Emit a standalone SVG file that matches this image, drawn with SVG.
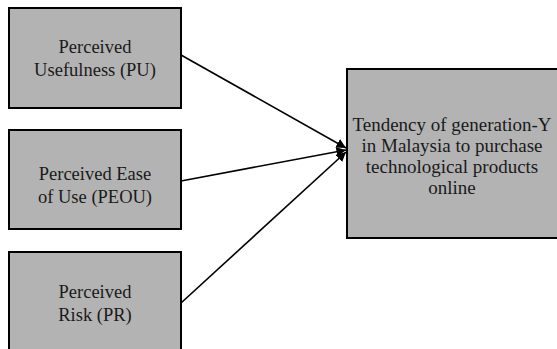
<svg xmlns="http://www.w3.org/2000/svg" width="557" height="349" viewBox="0 0 557 349">
<style>
.box{fill:#b3b3b3;stroke:#000;stroke-width:2}
.t{font-family:"Liberation Serif","Times New Roman",serif;font-size:18.5px;fill:#1a1a1a;text-anchor:middle}
.tl{font-size:19px}
.c{stroke:#000;stroke-width:1.6;fill:none;marker-end:url(#ah)}
</style>
<defs>
<marker id="ah" viewBox="0 0 10 10" refX="10" refY="5" markerWidth="6" markerHeight="6" orient="auto" markerUnits="strokeWidth">
<path d="M0,0 L10,5 L0,10 z" fill="#000"/>
</marker>
</defs>
<rect width="557" height="349" fill="#fff"/>
<g id="connectors">
<line class="c" x1="181" y1="55" x2="346" y2="148"/>
<line class="c" x1="181" y1="181" x2="346" y2="150"/>
<line class="c" x1="181" y1="303" x2="346" y2="152"/>
</g>
<g id="pu">
<rect class="box" x="9" y="8" width="172" height="100"/>
<text class="t" x="95" y="53">Perceived</text>
<text class="t" x="95" y="76">Usefulness (PU)</text>
</g>
<g id="peou">
<rect class="box" x="9" y="130" width="172" height="99"/>
<text class="t" x="95" y="180">Perceived Ease</text>
<text class="t" x="95" y="203">of Use (PEOU)</text>
</g>
<g id="pr">
<rect class="box" x="9" y="252" width="172" height="110"/>
<text class="t" x="95" y="298">Perceived</text>
<text class="t" x="95" y="321">Risk (PR)</text>
</g>
<g id="tendency">
<rect class="box" x="347" y="69" width="220" height="169"/>
<text class="t tl" x="452" y="131">Tendency of generation-Y</text>
<text class="t tl" x="452" y="152">in Malaysia to purchase</text>
<text class="t tl" x="452" y="173">technological products</text>
<text class="t tl" x="452" y="194">online</text>
</g>
</svg>
